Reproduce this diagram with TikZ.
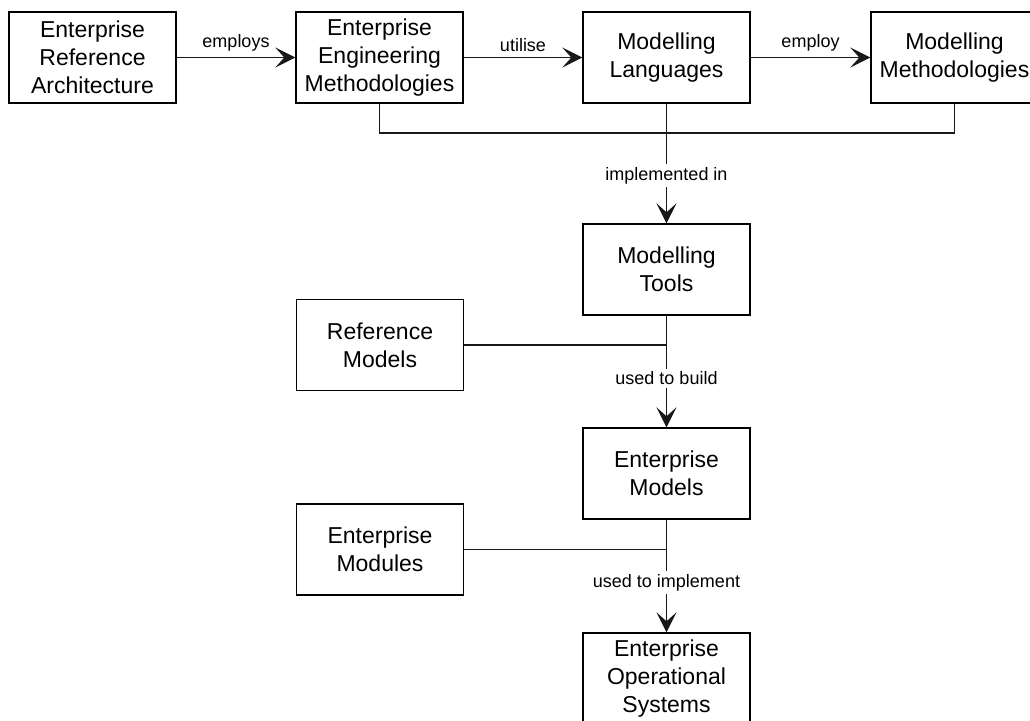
\documentclass[tikz,border=0pt]{standalone}
\usepackage{fontspec}
\setmainfont{Liberation Sans}
\usetikzlibrary{arrows.meta}
\begin{document}
\begin{tikzpicture}[x=1pt,y=-1pt,
  box/.style={draw=black, line width=1.4pt, minimum width=167pt, minimum height=91pt,
    inner sep=0pt, align=center, font=\fontsize{23}{28}\selectfont},
  link/.style={draw=black!90, line width=1.4pt},
  flow/.style={link, -{Stealth[length=20pt,width=20pt,inset=9pt]}},
  toplbl/.style={font=\fontsize{18}{21}\selectfont, above=2pt},
  lbl/.style={font=\fontsize{18}{21}\selectfont, fill=white, inner sep=3pt}]
\useasboundingbox (0,0) rectangle (1030,720);
\clip (0,0) rectangle (1030,720);

% top row
\node[box] (era) at (92.5,57.5) {Enterprise\\Reference\\Architecture};
\node[box] (eem) at (379.5,57.5) {Enterprise\\Engineering\\Methodologies};
\node[box] (ml)  at (666.5,57.5) {Modelling\\Languages};
\node[box] (mm)  at (954.5,57.5) {Modelling\\Methodologies};

% main column
\node[box] (mt)  at (666.5,269.5) {Modelling\\Tools};
\node[box] (em)  at (666.5,473.5) {Enterprise\\Models};
\node[box] (eos) at (666.5,678.5) {Enterprise\\Operational\\Systems};

% side inputs
\node[box] (rm)  at (380,345) {Reference\\Models};
\node[box] (emod) at (380,549.5) {Enterprise\\Modules};

% junction points
\coordinate (busL) at (379.5,133);
\coordinate (busR) at (954.5,133);
\coordinate (j1) at (666.5,345);
\coordinate (j2) at (666.5,549.5);

% top row arrows
\draw[flow] (era) -- node[toplbl] {employs} (eem);
\draw[flow] (eem) -- node[toplbl] {utilise} (ml);
\draw[flow] (ml) -- node[toplbl] {employ} (mm);

% bus joining the methodologies
\draw[link] (eem.south) -- (busL) -- (busR) -- (mm.south);

% downward chain
\draw[flow] (ml.south) -- node[lbl, pos=0.6] {implemented in} (mt.north);
\draw[link] (rm.east) -- (j1);
\draw[flow] (mt.south) -- node[lbl, pos=0.56] {used to build} (em.north);
\draw[link] (emod.east) -- (j2);
\draw[flow] (em.south) -- node[lbl, pos=0.56] {used to implement} (eos.north);
\end{tikzpicture}
\end{document}
